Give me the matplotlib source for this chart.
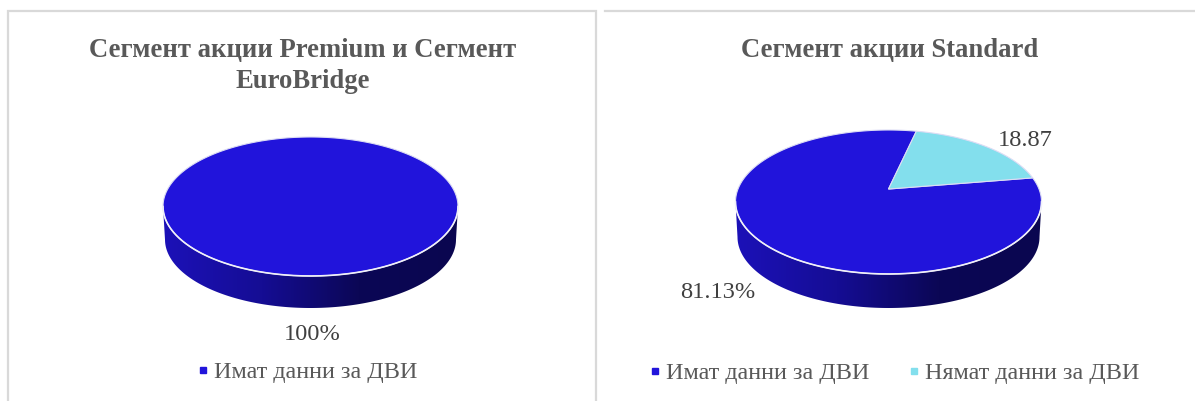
"""Two 3D-look pie charts, segment shares of companies with ДВИ data."""

import numpy as np
import matplotlib

matplotlib.use("Agg")
import matplotlib.pyplot as plt
from matplotlib.colors import LinearSegmentedColormap
from matplotlib.lines import Line2D
from matplotlib.patches import Polygon

plt.rcParams["font.family"] = ["Liberation Serif", "DejaVu Serif"]

# data
left_title = "Сегмент акции Premium и Сегмент\nEuroBridge"
left_labels = ["Имат данни за ДВИ"]
left_values = [100]
left_texts = ["100%"]

right_title = "Сегмент акции Standard"
right_labels = ["Имат данни за ДВИ", "Нямат данни за ДВИ"]
right_values = [81.13, 18.87]
right_texts = ["81.13%", "18.87"]

BLUE = "#2114db"
CYAN = "#83dfed"
TEXT = "#595959"
BORDER = "#d9d9d9"
side_cmap = LinearSegmentedColormap.from_list("side", ["#1c11b8", "#150d94", "#0b0755", "#0a0650"])


def project(theta, cx, cy, rx, ry, k):
    """Clockwise angle from top on the disc -> pixels, with perspective k."""
    c, s = np.sin(theta), -np.cos(theta)
    den = 1 + k * s
    return cx + rx * c * np.sqrt(1 - k * k) / den, cy + ry * (s + k) / den


def draw_pie(ax, values, colors, first_angle, cx, cy, rx, ry, depth, k):
    # side wall, gradient clipped to the front half
    t = np.linspace(0, np.pi, 200)
    upper = np.column_stack([cx + rx * np.cos(t), cy + ry * np.sin(t)])
    lower = np.column_stack([cx + (rx - 2) * np.cos(t), cy + depth + (ry - 1) * np.sin(t)])
    wall = Polygon(np.vstack([upper, lower[::-1]]), closed=True, fc="none", ec="none")
    ax.add_patch(wall)
    grad = np.linspace(0, 1, 256).reshape(1, -1)
    im = ax.imshow(grad, cmap=side_cmap, aspect="auto", extent=(cx - rx, cx + rx, cy + ry + depth, cy - ry), zorder=1)
    im.set_clip_path(wall)

    # top face
    total = sum(values)
    start = np.deg2rad(first_angle)
    for value, color in zip(values, colors):
        span = 2 * np.pi * value / total
        th = np.linspace(start, start + span, 240)
        x, y = project(th, cx, cy, rx, ry, k)
        if value < total:
            # disc centre under the perspective
            x = np.r_[cx, x]
            y = np.r_[cy + ry * k, y]
        ax.add_patch(Polygon(np.column_stack([x, y]), closed=True, fc=color, ec="#dcdcf4", lw=0.8, zorder=2))
        start += span

    # white rim along the front
    ax.plot(cx + rx * np.cos(t), cy + ry * np.sin(t), color="#f0f0f8", lw=1.2, zorder=3)


fig = plt.figure(figsize=(11.95, 4.01), dpi=100)
ax = fig.add_axes([0, 0, 1, 1])
ax.axis("off")

# panel borders
ax.plot([8, 8, 596, 596], [401, 11, 11, 401], color=BORDER, lw=1.6, solid_joinstyle="miter")
ax.plot([605, 1195], [11, 11], color=BORDER, lw=1.6)

draw_pie(ax, left_values, [BLUE], 0, 310.5, 206.5, 147.5, 69.5, 33, 0)
draw_pie(ax, right_values, [BLUE, CYAN], 80.5, 888.5, 202, 153, 72, 35, -0.18)
ax.set_xlim(0, 1195)
ax.set_ylim(401, 0)

title_kw = dict(ha="center", va="center", fontsize=19.2, fontweight="bold", color=TEXT, linespacing=1.35)
ax.text(302.5, 66, left_title, **title_kw)
ax.text(889.5, 50, right_title, **title_kw)

label_kw = dict(ha="center", va="center", fontsize=17.6, color="#404040")
ax.text(312.5, 335, left_texts[0], **label_kw)
ax.text(718, 293, right_texts[0], **label_kw)
ax.text(1025, 141, right_texts[1], **label_kw)


def square(color, label):
    return Line2D([], [], ls="none", marker="s", ms=4.6, color=color, label=label)


legend_kw = dict(loc="center", frameon=False, fontsize=17.4, labelcolor=TEXT, handletextpad=-0.05, handlelength=1.0, borderpad=0)
fig.legend(
    handles=[square(BLUE, left_labels[0])],
    bbox_to_anchor=(304.5 / 1195, 1 - 372 / 401),
    **legend_kw,
)
fig.legend(
    handles=[square(BLUE, right_labels[0]), square(CYAN, right_labels[1])],
    bbox_to_anchor=(891.2 / 1195, 1 - 373 / 401),
    ncol=2,
    columnspacing=1.35,
    **legend_kw,
)

fig.savefig("out.png", dpi=100)
plt.close(fig)
